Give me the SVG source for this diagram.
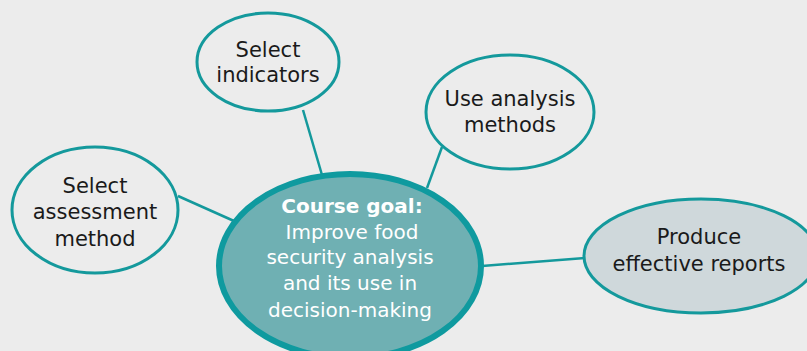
<svg xmlns="http://www.w3.org/2000/svg" width="807" height="351" viewBox="0 0 807 351">
<style>
.node{stroke:#14999c;stroke-width:3}
.lbl{font-family:"DejaVu Sans",sans-serif;font-size:21px;fill:#1a1a1a;text-anchor:middle}
.clbl{font-family:"DejaVu Sans",sans-serif;font-size:20px;fill:#ffffff;text-anchor:middle}
.conn{stroke:#14999c;stroke-width:2.5;fill:none}
</style>
<rect width="807" height="351" fill="#ececec"/>
<g id="connectors">
<line class="conn" x1="303" y1="110" x2="322" y2="175"/>
<line class="conn" x1="442" y1="147" x2="427" y2="188"/>
<line class="conn" x1="178" y1="196" x2="234" y2="221"/>
<line class="conn" x1="482" y1="266" x2="585" y2="258"/>
</g>
<g id="indicators">
<ellipse class="node" cx="268" cy="62" rx="71" ry="49" fill="#ececec"/>
<text class="lbl" x="268" y="57">Select</text>
<text class="lbl" x="268" y="82">indicators</text>
</g>
<g id="analysis">
<ellipse class="node" cx="510" cy="112" rx="84" ry="57" fill="#ececec"/>
<text class="lbl" x="510" y="106">Use analysis</text>
<text class="lbl" x="510" y="132">methods</text>
</g>
<g id="assessment">
<ellipse class="node" cx="95" cy="210" rx="83" ry="63" fill="#ececec"/>
<text class="lbl" x="95" y="193">Select</text>
<text class="lbl" x="95" y="219">assessment</text>
<text class="lbl" x="95" y="246">method</text>
</g>
<g id="reports">
<ellipse class="node" cx="701" cy="256" rx="117" ry="57" fill="#cfd8db"/>
<text class="lbl" x="699" y="244">Produce</text>
<text class="lbl" x="699" y="271">effective reports</text>
</g>
<g id="goal">
<ellipse cx="350" cy="266" rx="131" ry="92" fill="#6fb0b3" stroke="#0f9a9f" stroke-width="6"/>
<text class="clbl" x="352" y="213" font-weight="bold">Course goal:</text>
<text class="clbl" x="352" y="239">Improve food</text>
<text class="clbl" x="350" y="264">security analysis</text>
<text class="clbl" x="350" y="290">and its use in</text>
<text class="clbl" x="350" y="317">decision-making</text>
</g>
</svg>
